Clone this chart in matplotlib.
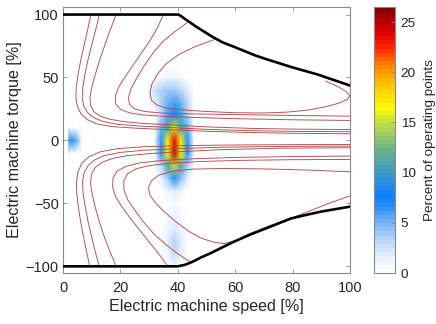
import numpy as np
import matplotlib
matplotlib.use("Agg")
import matplotlib.pyplot as plt
from matplotlib.colors import LinearSegmentedColormap

plt.rcParams["font.family"] = ["Liberation Sans", "DejaVu Sans"]

# grid of the operating point histogram
speed_nodes = np.linspace(2.0, 98.6, 43)
torque_nodes = np.arange(-100, 101, 10)

# percent of operating points per speed column, listed from torque -100 up to +100
pct_s2 = [0, 0, 0, 0, 0, 0, 0, 0, 0, 0.5, 9, 0.5, 0, 0, 0, 0, 0, 0, 0, 0, 0]
pct_s4 = [0, 0, 0, 0, 0, 0, 0, 0, 0, 0, 6, 0, 0, 0, 0, 0, 0, 0, 0, 0, 0]
pct_s32 = [0, 0, 0, 0, 0, 0, 0, 0, 0, 0, 0.5, 0, 0, 1.5, 2.5, 0, 0, 0, 0, 0, 0]
pct_s34 = [0, 0, 0, 0, 0, 0, 0, 1, 3, 7, 7, 5, 3, 3.5, 3.5, 0.5, 0, 0, 0, 0, 0]
pct_s37 = [0, 1, 1.5, 1, 0.8, 0.3, 1.2, 4, 11, 16.5, 16.5, 11, 6, 5, 4, 1, 0, 0, 0, 0, 0]
pct_s39 = [1, 3, 3.5, 2, 1.5, 0.6, 2, 7, 15, 25, 24, 17, 8, 6, 4, 1, 0, 0, 0, 0, 0]
pct_s41 = [0, 1.5, 2, 1, 0.8, 0.3, 1.2, 4.5, 11, 16.5, 16.5, 11.5, 6, 5, 3, 0.5, 0, 0, 0, 0, 0]
pct_s43 = [0, 0, 0, 0, 0, 0, 0, 1.5, 3.5, 7, 7, 5, 3.5, 3, 2, 0, 0, 0, 0, 0, 0]

# max torque envelope
top_speed = [0, 40.3, 46.2, 52, 55.5, 60, 67, 71.2, 80, 88.7, 100]
top_torque = [100, 100, 90.7, 82.4, 78, 74, 67.5, 64.3, 58, 52.4, 43.6]
bot_speed = [0, 40, 42.5, 45.5, 48, 51.5, 55, 59.5, 65, 70, 75, 79.4, 85, 90, 100]
bot_torque = [-100, -100, -98.8, -96, -93, -89.5, -85.5, -80.5, -75, -70.5, -66, -62, -59, -56.5, -52.6]

# efficiency iso-lines (speed, torque)
iso_lines = [
    [(9.7, 100), (8.6, 88), (7.4, 76), (6.2, 64), (5.2, 52), (4.6, 42), (4.5, 34), (5.0, 27),
     (6.3, 21), (8.5, 16.5), (12, 13), (17, 11), (25, 9.8), (35, 8.7), (50, 7.3), (65, 6.3),
     (80, 5.7), (100, 5.3)],
    [(12.7, 100), (11.4, 88), (10, 76), (8.7, 64), (7.6, 52), (6.9, 42), (6.7, 34), (7.2, 27.5),
     (8.6, 22), (10.8, 18), (14, 15), (19, 12.8), (27, 11.4), (37, 10.3), (50, 8.8), (65, 7.8),
     (80, 7.2), (100, 6.9)],
    [(18.5, 100), (16.5, 88), (14.6, 76), (12.8, 64), (11.2, 52), (10.0, 42), (9.4, 34), (9.6, 28),
     (10.7, 23), (12.8, 19.5), (16, 17), (21, 15), (28, 13.5), (38, 12.3), (50, 10.8), (65, 9.6),
     (80, 9), (100, 8.7)],
    [(35, 100), (33, 90), (30.5, 80), (27.5, 70), (24.5, 60), (21.5, 50), (19.3, 42), (18.2, 35),
     (18.4, 29), (20, 24.8), (23, 22), (28, 20.2), (35, 19.2), (45, 18.3), (60, 17.3), (80, 16.4),
     (100, 15.9)],
    [(43.2, 93.4), (39, 86.5), (35, 79), (31.5, 70), (28.5, 60), (25.8, 50), (23.7, 41), (22.8, 34),
     (23.2, 28.5), (25, 25), (28.5, 23), (34, 21.8), (42, 21.2), (55, 20.7), (70, 20.2), (85, 19.7),
     (100, 19.3)],
    [(52.6, 80), (46, 74.5), (40.5, 68.5), (36, 61), (33, 53), (31, 45), (30.3, 38), (30.8, 32),
     (32.8, 28), (36.5, 25.5), (42, 24.2), (50, 23), (60, 22), (70, 21.8), (78, 22.5), (85, 24),
     (91, 26.5), (96, 29.5), (99, 32.5), (100, 35.5), (98.5, 39), (96, 42.5), (91.6, 47)],
    [(9.3, -100), (8.2, -88), (7.1, -76), (6.1, -64), (5.3, -52), (4.8, -42), (4.7, -33), (5.2, -25),
     (6.6, -18), (9, -13), (13, -9), (19, -6.5), (28, -5), (40, -4.2), (55, -3.7), (75, -3.4),
     (100, -3.2)],
    [(12.6, -100), (11.2, -88), (9.9, -76), (8.7, -64), (7.7, -52), (7.0, -42), (6.8, -33), (7.3, -26),
     (8.7, -20), (11, -15.5), (14.5, -12), (20, -9.5), (28, -7.8), (40, -6.5), (55, -5.4), (75, -4.8),
     (100, -4.5)],
    [(18.5, -100), (16.3, -88), (14.3, -76), (12.6, -64), (11.1, -52), (10.1, -42), (9.6, -34),
     (9.9, -27), (11.2, -21.5), (13.5, -17.5), (17, -14.5), (22, -12.2), (30, -10.5), (40, -9),
     (55, -7.3), (75, -6.2), (100, -5.8)],
    [(36.5, -100), (34, -92), (30.5, -82), (27, -72), (23.5, -62), (20, -51), (18.2, -44), (17.3, -37),
     (17.4, -30), (18.8, -24.5), (22, -20.5), (27, -17.8), (34, -16), (45, -14.6), (60, -13.5),
     (80, -12.8), (100, -12.4)],
    [(44, -96), (40, -90), (36, -83), (32, -75), (28.5, -66), (25.2, -56), (22.5, -47), (21.2, -39),
     (21.2, -32), (22.5, -26.5), (25.5, -22.5), (30, -20), (37, -18.2), (47, -16.8), (62, -15.8),
     (80, -15.3), (100, -15.1)],
    [(100, -24.9), (85, -23.5), (70, -22.6), (55, -22.3), (45, -22.8), (38, -24.5), (33.5, -27.5),
     (30.8, -32), (29.8, -37.6), (30.3, -43.5), (32.2, -49.5), (35, -56), (39, -64), (43.7, -72),
     (48, -77.5), (52, -80.5), (56, -82), (60, -79.6), (65, -74), (72, -67.8), (80.4, -61),
     (86, -56), (92, -50.5), (100, -44)],
]

pct = np.zeros((len(torque_nodes), len(speed_nodes)))
pct[:, 0] = pct_s2
pct[:, 1] = pct_s4
pct[:, 13] = pct_s32
pct[:, 14] = pct_s34
pct[:, 15] = pct_s37
pct[:, 16] = pct_s39
pct[:, 17] = pct_s41
pct[:, 18] = pct_s43

cmap = LinearSegmentedColormap.from_list("ops", [
    (0.0, "#ffffff"), (1.5 / 26.5, "#e3effc"), (3.0 / 26.5, "#bcd9fa"), (5.0 / 26.5, "#6fb1f7"),
    (6.5 / 26.5, "#2b8ff8"), (7.5 / 26.5, "#0a80ff"), (9.0 / 26.5, "#2a8fe0"), (10.5 / 26.5, "#45a0b5"),
    (12.0 / 26.5, "#65b18f"), (13.5 / 26.5, "#8fc66a"), (15.0 / 26.5, "#c5e040"), (16.5 / 26.5, "#fbfb08"),
    (18.0 / 26.5, "#ffd900"), (19.5 / 26.5, "#ffb000"), (21.0 / 26.5, "#ff7a00"), (22.5 / 26.5, "#ff2a00"),
    (24.0 / 26.5, "#e60000"), (25.5 / 26.5, "#b00000"), (1.0, "#800000")], N=64)

fig = plt.figure(figsize=(4.36, 3.24), dpi=100)
ax = fig.add_axes([63 / 436, 51 / 324, 287 / 436, 266 / 324])
cax = fig.add_axes([374 / 436, 51 / 324, 21 / 436, 266 / 324])

mesh = ax.pcolormesh(speed_nodes, torque_nodes, pct, shading="gouraud", cmap=cmap, vmin=0, vmax=26.5)

for line in iso_lines:
    xs = [p[0] for p in line]
    ys = [p[1] for p in line]
    ax.plot(xs, ys, color="#b04a4a", lw=0.65, zorder=3)

ax.plot(top_speed, top_torque, color="black", lw=1.9, zorder=4)
ax.plot(bot_speed, bot_torque, color="black", lw=1.9, zorder=4)

ax.set_xlim(0, 100)
ax.set_ylim(-105.3, 106)
ax.set_xticks([0, 20, 40, 60, 80, 100])
ax.set_yticks([-100, -50, 0, 50, 100])
grey = "#8a8a8a"
txt = "#262626"
for sp in ax.spines.values():
    sp.set_color(grey)
    sp.set_linewidth(0.8)
ax.tick_params(direction="in", top=True, right=True, length=3, width=0.6, color=grey,
               labelsize=10.5, labelcolor=txt)
ax.tick_params(axis="x", pad=6)
ax.tick_params(axis="y", pad=3)
ax.set_xlabel("Electric machine speed [%]", fontsize=11.6, color=txt, labelpad=3)
ax.set_ylabel("Electric machine torque [%]", fontsize=11.6, color=txt, labelpad=3)

cb = fig.colorbar(mesh, cax=cax, ticks=[0, 5, 10, 15, 20, 25])
cb.outline.set_edgecolor(grey)
cb.outline.set_linewidth(0.8)
cax.tick_params(direction="in", length=3, width=0.6, color=grey, labelsize=9.7, labelcolor=txt, pad=4)
cb.set_label("Percent of operating points", fontsize=9.7, color=txt, labelpad=6)

fig.savefig("out.png", dpi=100)
